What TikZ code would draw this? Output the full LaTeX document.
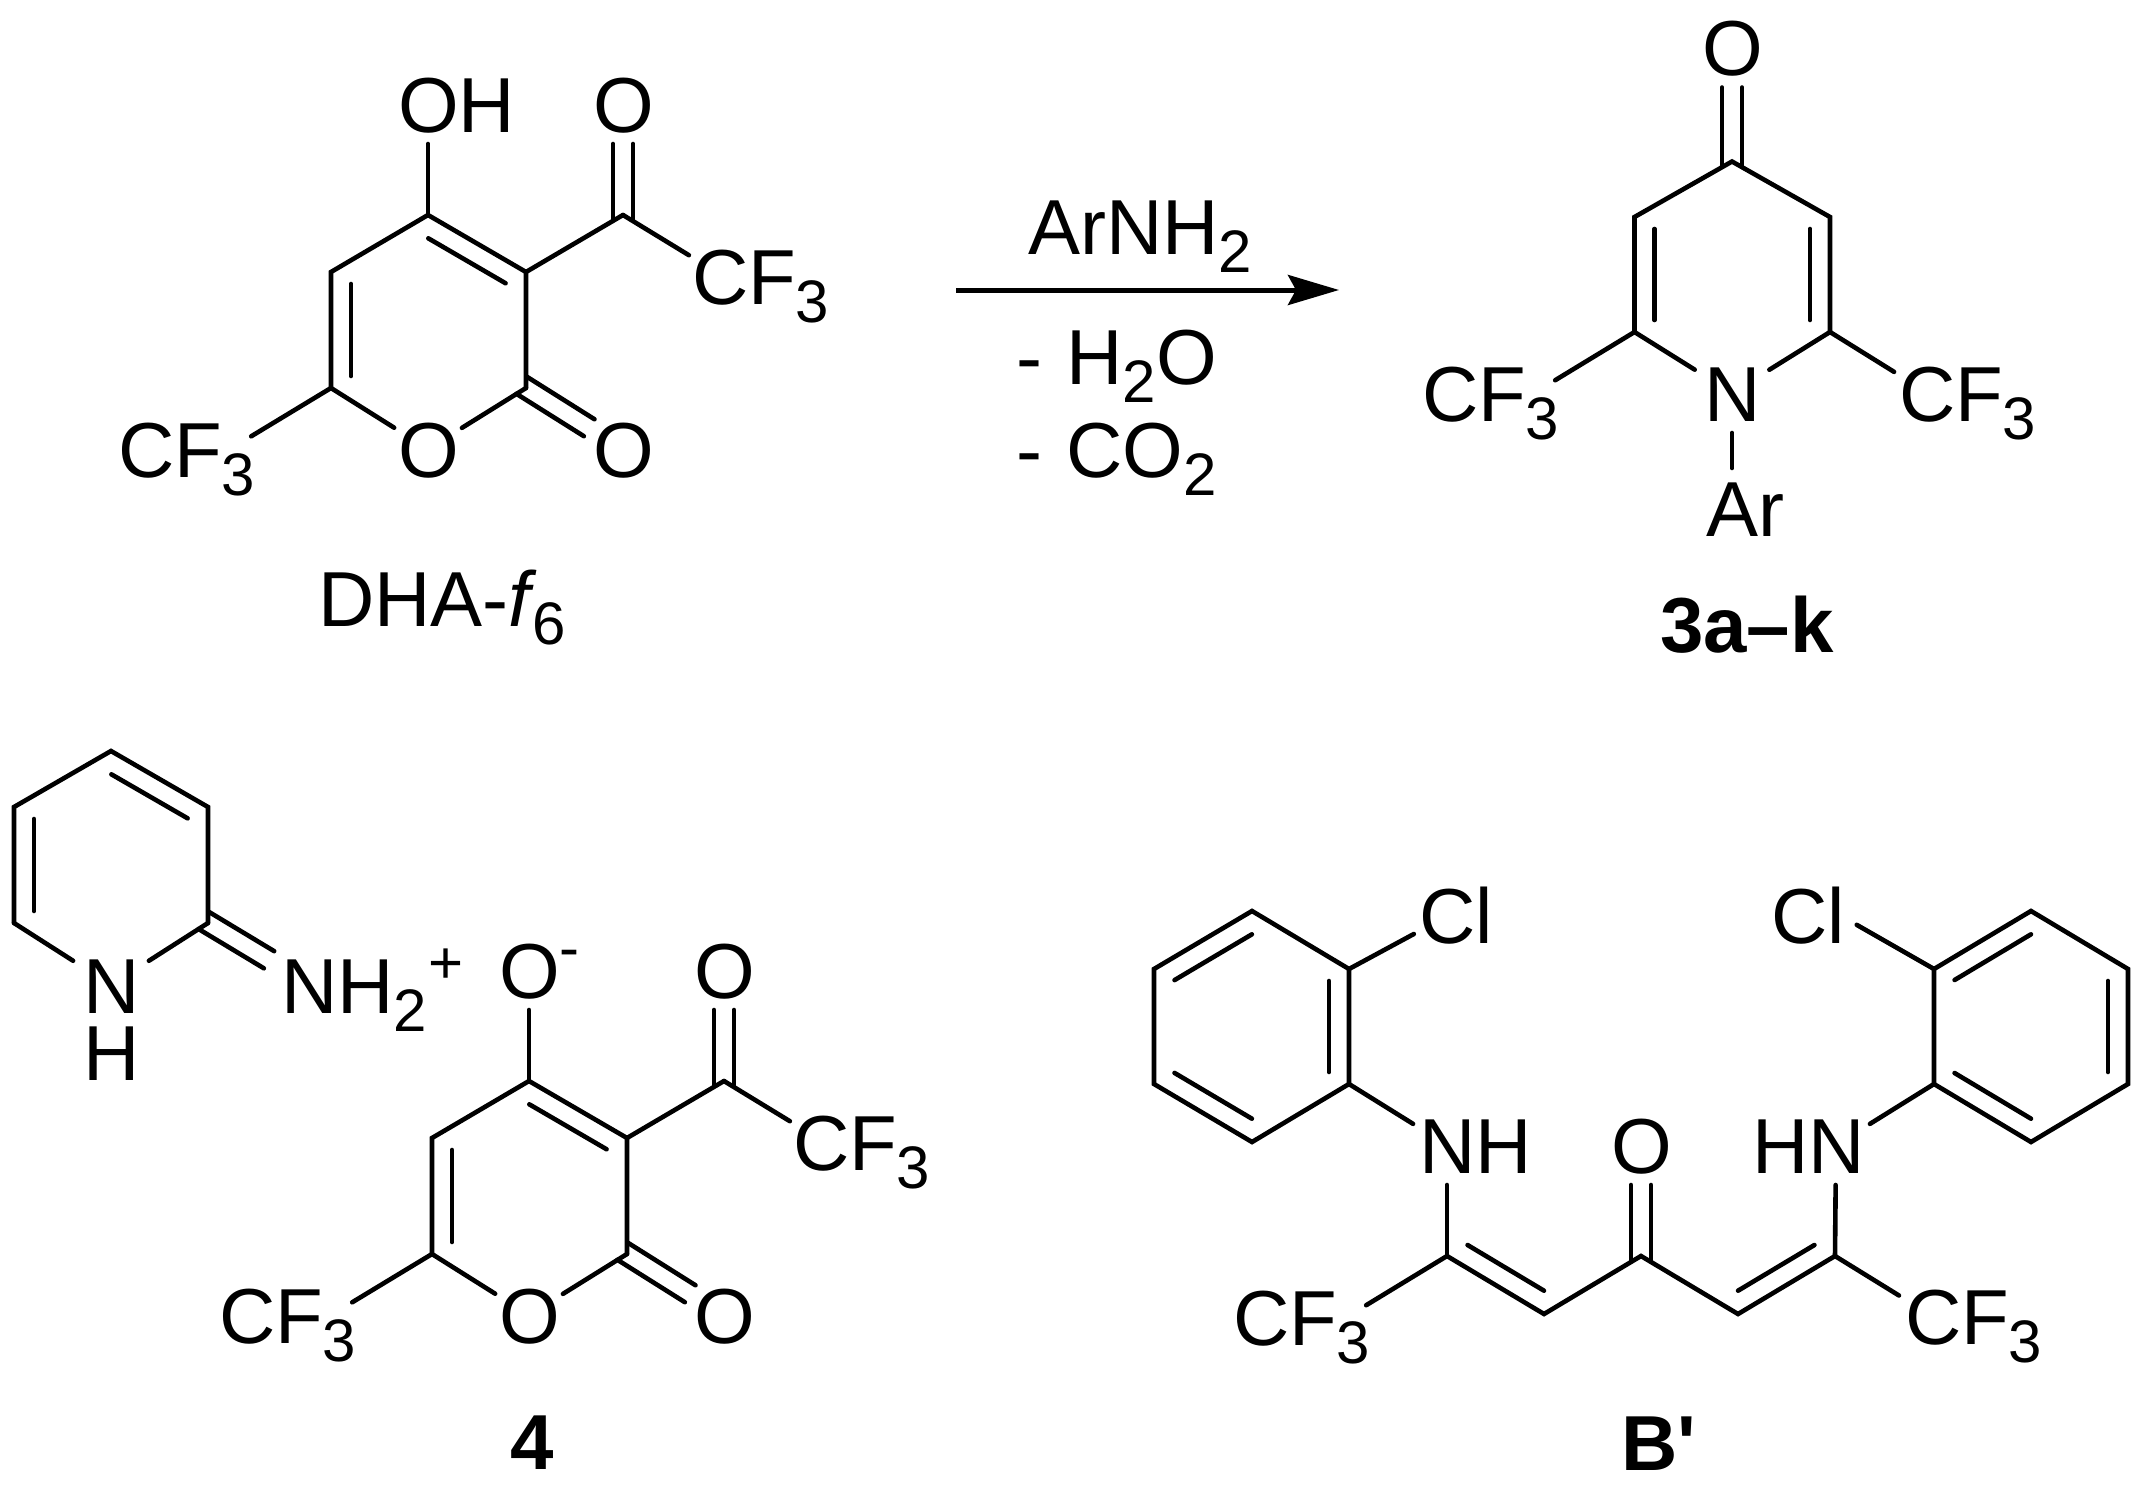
\documentclass[tikz,border=0pt]{standalone}
\usepackage{fontspec}
\setmainfont{Liberation Sans}
\newfontfamily\plainfam{Liberation Sans}
\usetikzlibrary{calc,arrows.meta}
\tikzset{
  bond/.style={line width=4.6pt,line cap=round,line join=miter,black},
  atom/.style={circle,minimum size=80pt,inner sep=0pt,outer sep=0pt},
  freetext/.style={inner sep=0pt,outer sep=0pt,anchor=base west},
  reaction/.style={line width=5pt,-{Stealth[length=51pt,width=30pt,inset=8pt]}}
}
\newcommand\subsc[1]{\raisebox{-18pt}{\fontsize{60}{60}\selectfont #1}}
\newcommand\supsc[2]{\raisebox{#1}{\fontsize{60}{60}\selectfont #2}}
% text placed relative to the atom centre: x offset of text start, extra baseline drop
\newcommand\atomlab[3]{\makebox[0pt][l]{\hspace*{-#1pt}\raisebox{-\dimexpr28pt+#2pt\relax}[0pt][0pt]{#3}}}
\newcommand\CFthree{CF\subsc{3}}
% exocyclic double bond a=b
\newcommand\dblout[3][40pt]{%
  \draw[bond,shorten <=-5pt] ($(#2)!10pt!90:(#3)$) -- ($(#3)!#1!(#2)!10pt!-90:(#2)$);
  \draw[bond,shorten <=-5pt] ($(#2)!10pt!-90:(#3)$) -- ($(#3)!#1!(#2)!10pt!90:(#2)$);
}
% inner line of a double bond: it lies to the right of the direction a->b
\newcommand\dblin[2]{%
  \draw[bond] ($(#1)!12pt!(#2)!20pt!-90:(#2)$) -- ($(#2)!12pt!(#1)!20pt!90:(#1)$);
}
% pyranone skeleton: prefix, dx, dy, text of the top label
\newcommand\pyrone[4]{%
  \coordinate (#1c4) at (428+#2,215+#3);
  \coordinate (#1c5) at (331+#2,272+#3);
  \coordinate (#1c6) at (331+#2,388+#3);
  \coordinate (#1c2) at (526+#2,388+#3);
  \coordinate (#1c3) at (526+#2,272+#3);
  \coordinate (#1ca) at (623+#2,215+#3);
  \node[atom] (#1oring) at (428+#2,449+#3) {\atomlab{30}{0}{O}};
  \node[atom] (#1otop) at (428+#2,104+#3) {\atomlab{30}{0}{#4}};
  \node[atom] (#1oacyl) at (623+#2,104+#3) {\atomlab{30}{0}{O}};
  \node[atom] (#1olact) at (623+#2,449+#3) {\atomlab{30}{0}{O}};
  \node[atom] (#1cfr) at (723+#2,276+#3) {\atomlab{31}{0}{\CFthree}};
  \node[atom] (#1cfl) at (217+#2,457+#3) {\atomlab{99}{-8}{\CFthree}};
  \draw[bond] (#1c6) -- (#1c5) -- (#1c4) -- (#1c3) -- (#1c2);
  \draw[bond] (#1c6) -- (#1oring);
  \draw[bond] (#1c2) -- (#1oring);
  \draw[bond] (#1c6) -- (#1cfl);
  \draw[bond] (#1c4) -- (#1otop);
  \draw[bond] (#1c3) -- (#1ca);
  \draw[bond] (#1ca) -- (#1cfr);
  \dblin{#1c4}{#1c3}
  \dblin{#1c6}{#1c5}
  \dblout{#1ca}{#1oacyl}
  \dblout{#1c2}{#1olact}
}
\begin{document}
\begin{tikzpicture}[x=1pt,y=-1pt,every node/.style={font=\fontsize{78}{90}\selectfont}]
\useasboundingbox (0,0) rectangle (2142,1491);

% ---- DHA-f6
\pyrone{m}{0}{0}{OH}
\node[freetext] (lblDHA) at (318,626) {DHA-\textit{f}\kern-5pt\subsc{6}};

% ---- reaction arrow
\coordinate (arrowA) at (956,290);
\coordinate (arrowB) at (1339,290);
\draw[reaction] (arrowA) -- (arrowB);
\node[freetext] (reagent) at (1028,254) {ArNH\subsc{2}};
\node[freetext] (lossw) at (1016,384) {-\kern3pt{} H\subsc{2}O};
\node[freetext] (lossc) at (1016,477) {-\kern3pt{} CO\subsc{2}};

% ---- 3a-k
\coordinate (rc4) at (1732,161.5);
\coordinate (rc3) at (1634.5,217);
\coordinate (rc2) at (1634.5,332);
\coordinate (rc6) at (1830,332);
\coordinate (rc5) at (1830,217);
\node[atom] (ro) at (1732,47.5) {\atomlab{30}{0}{O}};
\node[atom] (rn) at (1732,393) {\atomlab{28}{0}{N}};
\node[atom] (rar) at (1732,508) {\atomlab{26}{0}{Ar}};
\node[atom] (rcfl) at (1521,401) {\atomlab{99}{-8}{\CFthree}};
\node[atom] (rcfr) at (1928,393) {\atomlab{29}{0}{\CFthree}};
\draw[bond] (rc2) -- (rc3) -- (rc4) -- (rc5) -- (rc6);
\draw[bond,shorten >=4pt] (rc2) -- (rn);
\draw[bond,shorten >=4pt] (rc6) -- (rn);
\draw[bond] (rc2) -- (rcfl);
\draw[bond] (rc6) -- (rcfr);
\draw[bond] (rn) -- (rar);
\dblin{rc2}{rc3}
\dblin{rc5}{rc6}
\dblout{rc4}{ro}
\node[freetext,font=\fontsize{78}{90}\selectfont\bfseries] (lbl3) at (1660,652) {3a–k};

% ---- pyridinium
\coordinate (hc1) at (111,751);
\coordinate (hc2) at (208,807);
\coordinate (hc3) at (208,923);
\coordinate (hc4) at (14,923);
\coordinate (hc5) at (14,807);
\node[atom] (hn) at (111,985) {\atomlab{28}{0}{N}};
\node[atom] (hh) at (111,1052) {\atomlab{28}{0}{H}};
\node[atom] (hnh) at (311,985) {\atomlab{30}{0}{NH\subsc{2}\kern1pt\supsc{30pt}{+}}};
\draw[bond] (hc4) -- (hc5) -- (hc1) -- (hc2) -- (hc3);
\draw[bond,shorten >=5pt] (hc3) -- (hn);
\draw[bond,shorten >=5pt] (hc4) -- (hn);
\dblin{hc1}{hc2}
\dblin{hc4}{hc5}
\dblout[49pt]{hc3}{hnh}

% ---- 4
\pyrone{a}{101}{866}{O\supsc{30pt}{-}}
\node[freetext] (lbl4) at (510,1469) {\bfseries 4};

% ---- B'
\coordinate (lt) at (1252,911);
\coordinate (lrt) at (1349,969);
\coordinate (lrb) at (1349,1084);
\coordinate (lb) at (1252,1142);
\coordinate (llb) at (1154,1084);
\coordinate (llt) at (1154,969);
\coordinate (tt) at (2031,911);
\coordinate (tlt) at (1934,969);
\coordinate (tlb) at (1934,1084);
\coordinate (tb) at (2031,1142);
\coordinate (trb) at (2128,1084);
\coordinate (trt) at (2128,969);
\coordinate (ch1) at (1447,1256);
\coordinate (ch2) at (1544,1314);
\coordinate (ch3) at (1641,1256);
\coordinate (ch4) at (1738,1314);
\coordinate (ch5) at (1835,1256);
\node[atom] (cll) at (1449,915) {\atomlab{30}{0}{Cl}};
\node[atom] (clr) at (1822,905) {\atomlab{51}{10}{Cl}};
\node[atom] (nl) at (1447,1145) {\atomlab{28}{0}{NH}};
\node[atom] (nr) at (1836,1145) {\atomlab{84}{0}{HN}};
\node[atom] (ob) at (1641,1145) {\atomlab{30}{0}{O}};
\node[atom] (cfbl) at (1332,1326) {\atomlab{99}{-9}{\CFthree}};
\node[atom] (cfbr) at (1933,1316.5) {\atomlab{28}{0}{\CFthree}};
\draw[bond] (lt) -- (lrt) -- (lrb) -- (lb) -- (llb) -- (llt) -- cycle;
\draw[bond] (tt) -- (tlt) -- (tlb) -- (tb) -- (trb) -- (trt) -- cycle;
\dblin{llt}{lt}
\dblin{lrt}{lrb}
\dblin{lb}{llb}
\dblin{tlt}{tt}
\dblin{trt}{trb}
\dblin{tb}{tlb}
\draw[bond] (lrt) -- (cll);
\draw[bond] (lrb) -- (nl);
\draw[bond] (tlt) -- (clr);
\draw[bond] (tlb) -- (nr);
\draw[bond] (ch1) -- (ch2) -- (ch3) -- (ch4) -- (ch5);
\draw[bond] (ch1) -- (nl);
\draw[bond] (ch5) -- (nr);
\draw[bond] (ch1) -- (cfbl);
\draw[bond] (ch5) -- (cfbr);
\dblin{ch2}{ch1}
\dblin{ch5}{ch4}
\dblout{ch3}{ob}
\node[freetext] (lblB) at (1621,1470) {\plainfam\bfseries B'};
\end{tikzpicture}
\end{document}
